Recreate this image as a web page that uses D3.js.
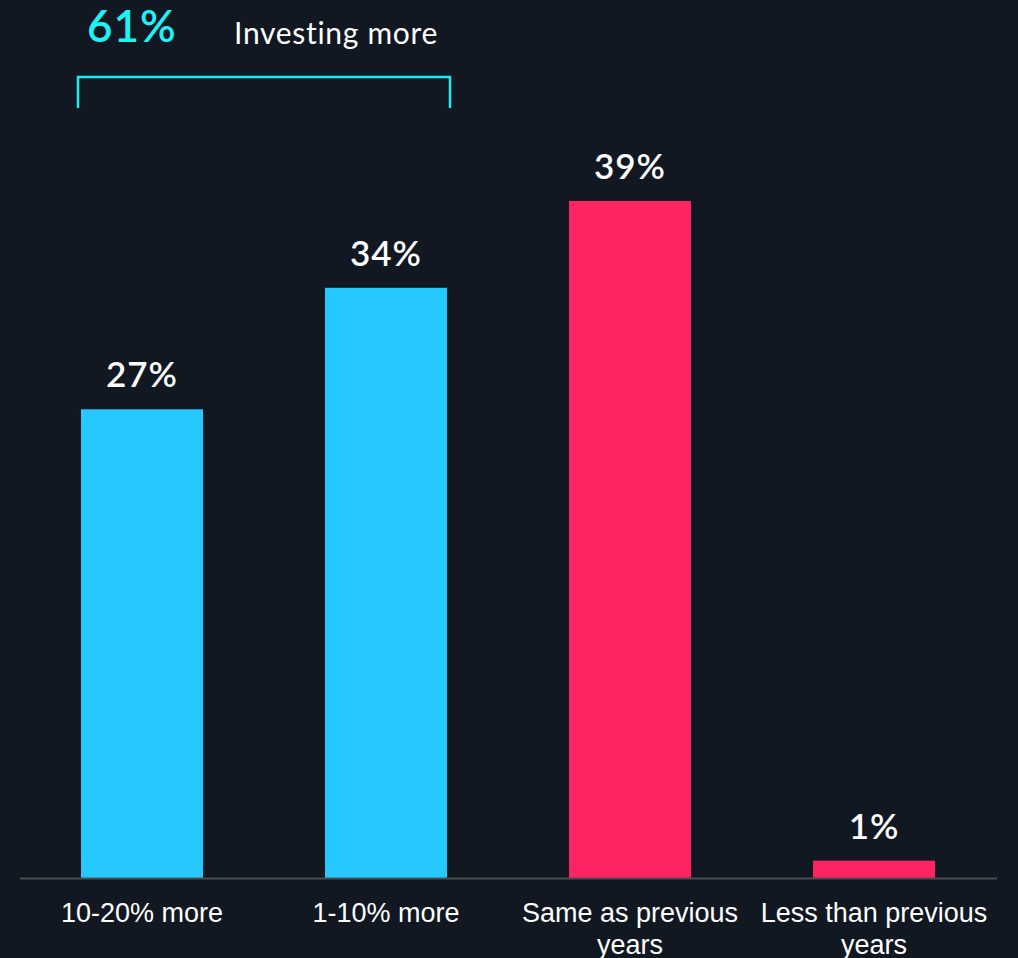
<!DOCTYPE html>
<html>
<head>
<meta charset="utf-8">
<script src="https://cdn.jsdelivr.net/npm/d3@7"></script>
<style>
  html, body { margin: 0; padding: 0; background: #111821; }
  svg { display: block; }
</style>
</head>
<body>
<svg id="chart" width="1018" height="958"></svg>
<script>
// data
var categories = ["10-20% more", "1-10% more", "Same as previous years", "Less than previous years"];
var values = [27, 34, 39, 1];
var groups = ["more", "more", "same", "less"];
var total = { value: 61, label: "Investing more", span: ["10-20% more", "1-10% more"] };

var colors = { more: "#25C9FF", same: "#FF2361", less: "#FF2361" };

var svg = d3.select("#chart");
var width = 1018, height = 958;
var baseline = 878;

svg.append("rect").attr("width", width).attr("height", height).attr("fill", "#111821");

var x = d3.scaleBand()
    .domain(categories)
    .range([20, 996])
    .paddingInner(0.5)
    .paddingOuter(0.25);

var y = d3.scaleLinear()
    .domain([0, 39])
    .range([baseline, 201]);

// bars
svg.selectAll("rect.bar")
    .data(values)
    .enter()
    .append("rect")
    .attr("class", "bar")
    .attr("x", function (d, i) { return x(categories[i]); })
    .attr("y", function (d) { return y(d); })
    .attr("width", x.bandwidth())
    .attr("height", function (d) { return y(0) - y(d); })
    .attr("fill", function (d, i) { return colors[groups[i]]; });

// value labels
svg.selectAll("text.val")
    .data(values)
    .enter()
    .append("text")
    .attr("class", "val")
    .attr("x", function (d, i) { return x(categories[i]) + x.bandwidth() / 2; })
    .attr("y", function (d) { return y(d) - 22; })
    .attr("text-anchor", "middle")
    .attr("fill", "#ffffff")
    .style("font-family", "Lato, 'Noto Sans', sans-serif")
    .style("font-weight", 600)
    .style("font-size", "35px")
    .style("letter-spacing", "1px")
    .text(function (d) { return d + "%"; });

// axis line
svg.append("line")
    .attr("x1", 20).attr("x2", 997)
    .attr("y1", baseline + 0.5).attr("y2", baseline + 0.5)
    .attr("stroke", "#4a4d52")
    .attr("stroke-width", 2);

// category labels, wrapped to two lines where they are long
var catLines = {
  "10-20% more": ["10-20% more"],
  "1-10% more": ["1-10% more"],
  "Same as previous years": ["Same as previous", "years"],
  "Less than previous years": ["Less than previous", "years"]
};
var cat = svg.selectAll("text.cat")
    .data(categories)
    .enter()
    .append("text")
    .attr("class", "cat")
    .attr("text-anchor", "middle")
    .attr("fill", "#ffffff")
    .style("font-family", "'Liberation Sans', Arial, sans-serif")
    .style("font-size", "27px");
cat.selectAll("tspan")
    .data(function (d) { return catLines[d].map(function (t) { return { t: t, c: d }; }); })
    .enter()
    .append("tspan")
    .attr("x", function (d) { return x(d.c) + x.bandwidth() / 2; })
    .attr("y", function (d, i) { return 922 + i * 32; })
    .text(function (d) { return d.t; });

// bracket annotation
var bx1 = x(total.span[0]) - 3;
var bx2 = x(total.span[1]) + x.bandwidth() + 3;
svg.append("path")
    .attr("d", "M" + bx1 + ",108V77H" + bx2 + "V108")
    .attr("fill", "none")
    .attr("stroke", "#1FEAF2")
    .attr("stroke-width", 2.5);

svg.append("text")
    .attr("x", 87)
    .attr("y", 42)
    .attr("fill", "#1FF2F5")
    .style("font-family", "Lato, 'Noto Sans', sans-serif")
    .style("font-weight", 600)
    .style("font-size", "44px")
    .style("letter-spacing", "1px")
    .text(total.value + "%");

svg.append("text")
    .attr("x", 234)
    .attr("y", 44)
    .attr("fill", "#ffffff")
    .style("font-family", "Lato, 'Noto Sans', sans-serif")
    .style("font-weight", 400)
    .style("font-size", "30px")
    .style("letter-spacing", "0.7px")
    .text(total.label);
</script>
</body>
</html>
